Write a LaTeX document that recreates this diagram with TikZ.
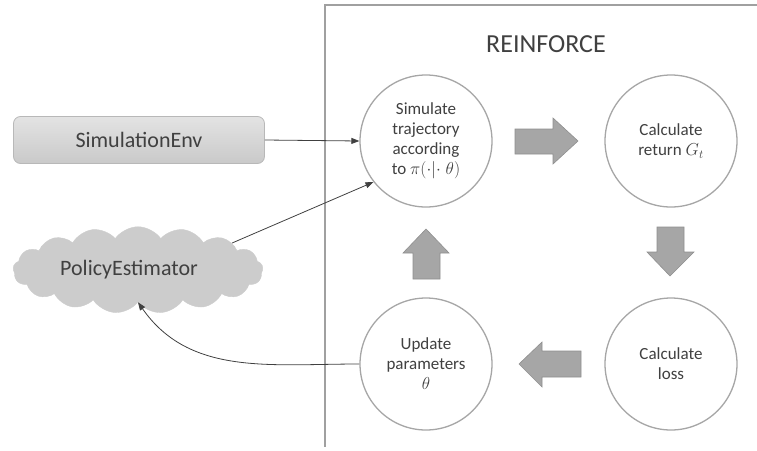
\documentclass[tikz,border=0pt]{standalone}
\usepackage{fontspec}
\setmainfont{Carlito}
\usetikzlibrary{shapes.symbols,arrows.meta}
\definecolor{txt}{HTML}{404040}
\definecolor{circ}{HTML}{A6A6A6}
\definecolor{barrow}{HTML}{A6A6A6}
\definecolor{barrowb}{HTML}{8F8F8F}
\definecolor{frame}{HTML}{A0A0A0}
\begin{document}
\begin{tikzpicture}[x=1pt,y=-1pt,
  stepcircle/.style={circle,draw=circ,line width=1.3pt,fill=white,minimum size=132pt,inner sep=0pt,
    align=center,text=txt,font=\fontsize{17}{20}\selectfont},
  conn/.style={draw=txt,line width=0.8pt,-{Triangle[length=8pt,width=6pt]}},
  blockarrow/.style={fill=barrow,draw=barrowb,line width=0.6pt}]
\useasboundingbox (0,0) rectangle (757,450);
% frame
\draw[frame,line width=1.2pt] (757,5) -- (325,5) -- (325,447);
\node[text=txt,font=\fontsize{26}{30}\selectfont] (title) at (546,44) {REINFORCE};
% circles
\node[stepcircle] (sim) at (426,141) {Simulate\\trajectory\\according\\to $\pi(\cdot|{\cdot}\;\theta)$};
\node[stepcircle] (ret) at (671,141) {Calculate\\return $G_t$};
\node[stepcircle] (loss) at (671,364) {Calculate\\loss};
\node[stepcircle] (upd) at (426,364) {Update\\parameters\\$\theta$};
% block arrows
\draw[blockarrow] (515,129) -- (553,129) -- (553,118) -- (578,141) -- (553,164) -- (553,154) -- (515,154) -- cycle;
\draw[blockarrow] (657,227) -- (684,227) -- (684,252) -- (694,252) -- (670,276) -- (647,252) -- (657,252) -- cycle;
\draw[blockarrow] (581,351) -- (542,351) -- (542,342) -- (519,364) -- (542,387) -- (542,377) -- (581,377) -- cycle;
\draw[blockarrow] (413,279) -- (440,279) -- (440,253) -- (449,253) -- (426,229) -- (403,253) -- (413,253) -- cycle;
% left nodes
\node[rounded corners=7pt,draw=circ!80,line width=0.8pt,top color=gray!22,bottom color=gray!42,
  minimum width=251pt,minimum height=47pt,text=txt,font=\fontsize{22}{26}\selectfont] (env) at (139,140) {SimulationEnv};
\node[cloud,cloud puffs=17,cloud puff arc=110,aspect=3.3,fill=gray!40,draw=gray!40,
  minimum width=250pt,minimum height=75pt,inner sep=0pt,text=txt,font=\fontsize{22}{26}\selectfont] (cloud) at (138,270) {PolicyEstimator\hspace*{18pt}};
% connectors
\draw[conn] (env.east) -- (sim.west);
\draw[conn] (cloud.16) -- (sim.218);
\draw[conn] (upd.west) to[out=180,in=-55] (cloud.south);
\end{tikzpicture}
\end{document}
